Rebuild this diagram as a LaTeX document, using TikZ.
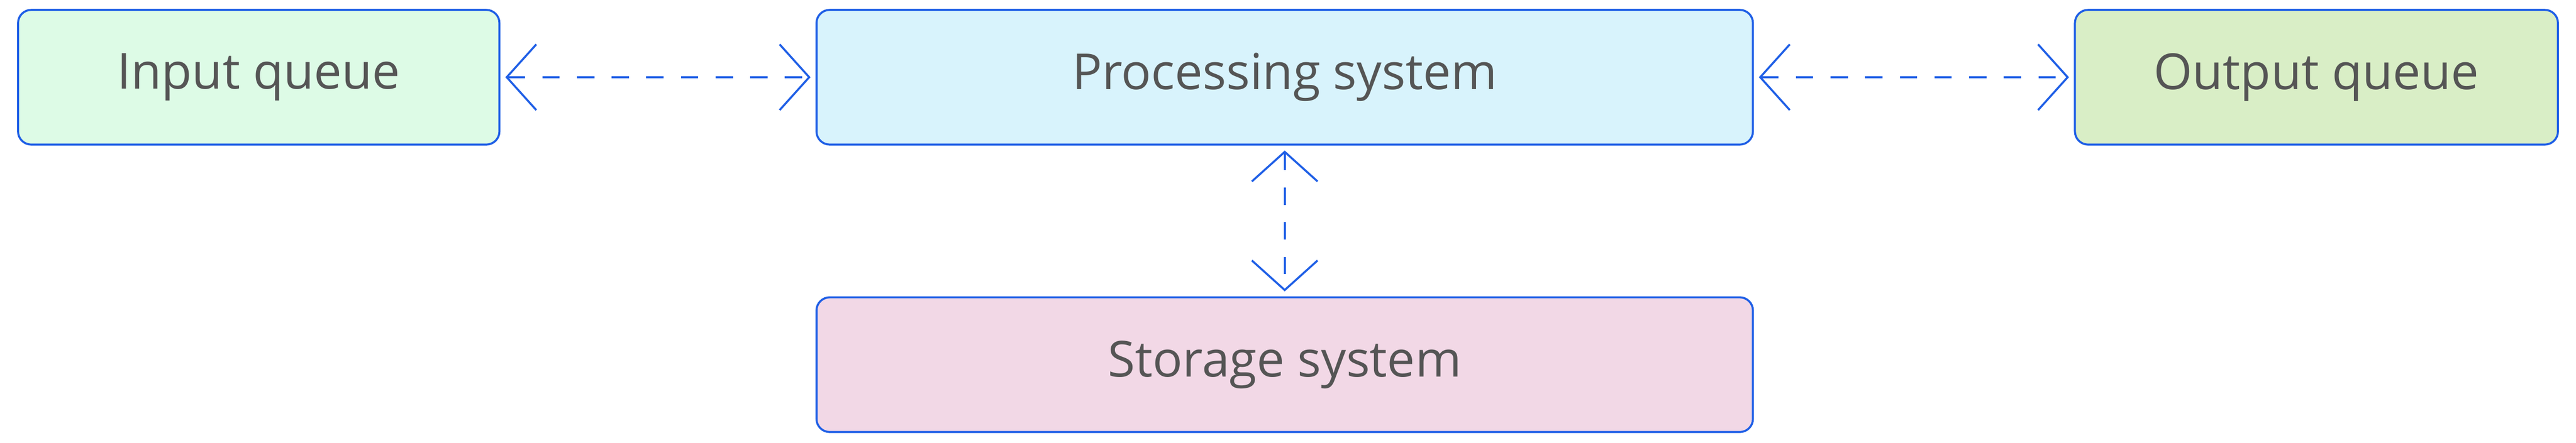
\documentclass[tikz,border=0pt]{standalone}
\usepackage{fontspec}
\setmainfont{Open Sans}
\usetikzlibrary{arrows.meta}
\definecolor{edgeblue}{HTML}{1F5FE6}
\definecolor{txtgray}{HTML}{555555}
\begin{document}
\begin{tikzpicture}[x=0.1mm, y=-0.1mm,
  box/.style={draw=edgeblue, rounded corners=0.8mm, minimum height=8.2mm,
    text=txtgray, font=\fontsize{8.6}{10}\selectfont, line width=0.35pt},
  link/.style={{Straight Barb[length=1.8mm, width=4mm]}-{Straight Barb[length=1.8mm, width=4mm]},
    dashed, edgeblue, line width=0.35pt, shorten <=0.3mm, shorten >=0.3mm}]
\useasboundingbox (0,0) rectangle (1568,269.4);
\node[box, fill={rgb,255:red,221;green,251;blue,230}, minimum width=29.3mm] (input) at (157.5,47) {Input queue};
\node[box, fill={rgb,255:red,216;green,243;blue,252}, minimum width=57mm] (proc) at (782,47) {Processing system};
\node[box, fill={rgb,255:red,217;green,238;blue,198}, minimum width=29.4mm] (output) at (1410,47) {Output queue};
\node[box, fill={rgb,255:red,242;green,216;blue,230}, minimum width=57mm] (store) at (782,222) {Storage system};
\draw[link] (input) -- (proc);
\draw[link] (proc) -- (output);
\draw[link] (proc) -- (store);
\end{tikzpicture}
\end{document}
